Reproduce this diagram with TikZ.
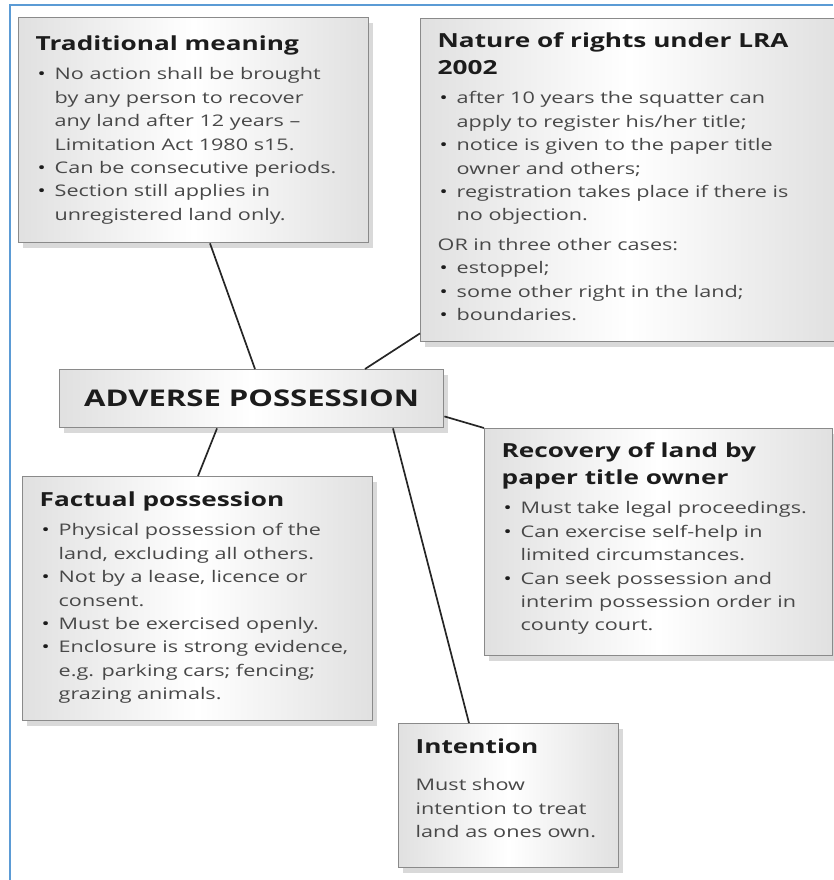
\documentclass[tikz,border=0pt]{standalone}
\usepackage{fontspec}
\setmainfont{Open Sans}[FakeStretch=1.35]
\usepackage{xcolor}
\usepackage{tikz}
\usetikzlibrary{shadows}

\definecolor{frameblue}{HTML}{5B9BD5}
\definecolor{cardedge}{HTML}{8A8A8A}
\definecolor{bodygray}{HTML}{484848}
\definecolor{titleblack}{HTML}{1C1C1C}
\definecolor{linkgray}{HTML}{262626}

\tikzset{
  card/.style={rectangle, draw=cardedge, line width=1.4pt,
    left color=gray!24, right color=gray!24, middle color=white,
    drop shadow={shadow xshift=4pt, shadow yshift=-5pt, opacity=0.3},
    inner xsep=17pt, inner ysep=6pt, anchor=north west,
    text=bodygray, font=\fontsize{16}{23.4}\selectfont},
  link/.style={draw=linkgray, line width=1.7pt}
}

% box contents: width, height, top gap, text
\newcommand{\cardbody}[4]{\parbox[t][#2][t]{#1}{\raggedright\let\\\newline\vspace*{#3}#4}}
\newcommand{\cardtitle}[1]{{\fontsize{19.4}{27}\selectfont\bfseries\color{titleblack}#1\par}\vspace{6pt}}
\newcommand{\bul}[1]{\par\hangindent=19pt\hangafter=1\noindent\makebox[19pt][l]{\hspace{2pt}{\color{titleblack}\textbullet}}#1\par}

\begin{document}
\begin{tikzpicture}[x=1pt, y=-1pt]
  \useasboundingbox (0,0) rectangle (833,880);
  \draw[frameblue, line width=2.5pt] (10,880) -- (10,5) -- (833,5);

  % Nodes
  \node[card] (trad) at (18,17) {\cardbody{316pt}{213pt}{12pt}{%
    \cardtitle{Traditional meaning}
    \bul{No action shall be brought\\ by any person to recover\\ any land after 12 years --\\ Limitation Act 1980 s15.}
    \bul{Can be consecutive periods.}
    \bul{Section still applies in\\ unregistered land only.}}};

  \node[card] (nature) at (420,18) {\cardbody{382pt}{311pt}{8pt}{%
    \cardtitle{Nature of rights under LRA\\ 2002}
    \bul{after 10 years the squatter can\\ apply to register his/her title;}
    \bul{notice is given to the paper title\\ owner and others;}
    \bul{registration takes place if there is\\ no objection.}
    \vspace{6pt}\noindent OR in three other cases:\par
    \bul{estoppel;}
    \bul{some other right in the land;}
    \bul{boundaries.}}};

  \node[card, inner xsep=0pt, inner ysep=0pt, minimum width=384, minimum height=58,
    font=\fontsize{23}{28}\selectfont\bfseries, text=titleblack] (main) at (59,369) {ADVERSE POSSESSION};

  \node[card] (recov) at (484,428) {\cardbody{314pt}{215pt}{8pt}{%
    \cardtitle{Recovery of land by\\ paper title owner}
    \bul{Must take legal proceedings.}
    \bul{Can exercise self-help in\\ limited circumstances.}
    \bul{Can seek possession and\\ interim possession order in\\ county court.}}};

  \node[card] (fact) at (22,476) {\cardbody{316pt}{232pt}{9pt}{%
    \cardtitle{Factual possession}
    \bul{Physical possession of the\\ land, excluding all others.}
    \bul{Not by a lease, licence or\\ consent.}
    \bul{Must be exercised openly.}
    \bul{Enclosure is strong evidence,\\ e.g. parking cars; fencing;\\ grazing animals.}}};

  \node[card] (intent) at (398,723) {\cardbody{186pt}{132pt}{9pt}{%
    \cardtitle{Intention}
    \vspace{8pt}\noindent Must show\\ intention to treat\\ land as ones own.}};

  % Edges
  \draw[link] ([xshift=192pt]trad.south west) -- ([xshift=196pt]main.north west);
  \draw[link] ([xshift=306pt]main.north west) -- ([yshift=9pt]nature.south west);
  \draw[link] ([yshift=12pt]main.south east) -- (recov.north west);
  \draw[link] ([xshift=158pt]main.south west) -- ([xshift=176pt]fact.north west);
  \draw[link] ([xshift=334pt]main.south west) -- ([xshift=71pt]intent.north west);
\end{tikzpicture}
\end{document}
